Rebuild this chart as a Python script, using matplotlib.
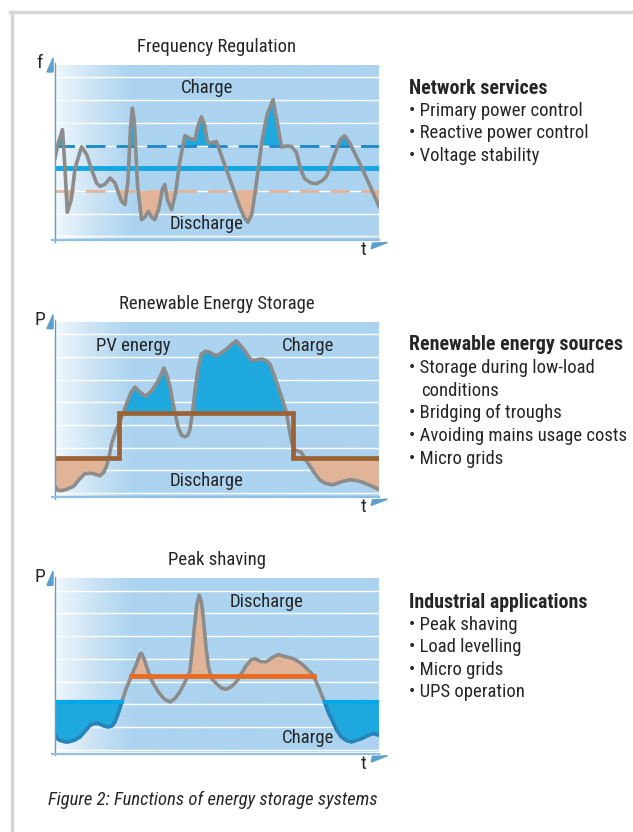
import numpy as np
import matplotlib
matplotlib.use("Agg")
import matplotlib.pyplot as plt
from matplotlib.patches import Polygon
from matplotlib.lines import Line2D
from matplotlib import font_manager

# ---------------- data ----------------
# Panel 1: Frequency Regulation
freq_x = [0.00, 0.10, 0.23, 0.30, 0.38, 0.50, 0.62, 0.82, 0.98, 1.13, 1.28, 1.39, 1.55, 1.70,
          1.85, 2.05, 2.16, 2.25, 2.33, 2.39, 2.45, 2.55, 2.67, 2.78, 2.88, 2.98, 3.08, 3.20,
          3.32, 3.39, 3.47, 3.60, 3.72, 3.85, 4.01, 4.18, 4.32, 4.42, 4.52, 4.62, 4.70, 4.78,
          4.98, 5.20, 5.45, 5.70, 5.85, 5.96, 6.08, 6.20, 6.40, 6.55, 6.73, 6.85, 6.99, 7.15,
          7.30, 7.45, 7.58, 7.70, 7.90, 8.07, 8.25, 8.38, 8.60, 8.80, 8.94, 9.10, 9.40, 9.70, 10.00]
freq_y = [3.45, 4.10, 4.70, 3.20, 1.06, 1.60, 3.00, 3.94, 3.60, 2.94, 2.35, 2.20, 2.30, 2.57,
          2.35, 1.55, 1.40, 2.40, 4.80, 5.65, 5.00, 2.20, 0.73, 0.85, 1.10, 0.85, 0.73, 1.20,
          2.10, 2.28, 1.60, 1.17, 1.90, 3.30, 4.43, 4.30, 4.26, 4.90, 5.26, 4.90, 4.20, 4.11,
          4.18, 3.30, 2.30, 1.30, 0.80, 0.62, 1.00, 2.20, 4.30, 5.40, 6.02, 5.10, 3.94, 3.98,
          3.96, 3.70, 2.95, 2.55, 2.35, 2.32, 2.45, 2.64, 3.50, 4.25, 4.43, 4.10, 3.23, 2.30, 1.32]
freq_upper = 4.0
freq_nominal = 3.0
freq_lower = 2.0

# Panel 2: Renewable Energy Storage
res_x = [0.00, 0.08, 0.20, 0.40, 0.57, 0.75, 0.92, 1.13, 1.30, 1.39, 1.50, 1.59, 1.67, 1.75,
         1.88, 2.00, 2.10, 2.21, 2.35, 2.47, 2.62, 2.80, 2.98, 3.13, 3.27, 3.36, 3.45, 3.55,
         3.62, 3.70, 3.80, 3.90, 4.01, 4.10, 4.16, 4.24, 4.32, 4.42, 4.52, 4.65, 4.78, 4.98,
         5.15, 5.29, 5.45, 5.60, 5.72, 5.86, 6.00, 6.12, 6.30, 6.42, 6.55, 6.63, 6.75, 6.89,
         7.02, 7.14, 7.22, 7.30, 7.40, 7.50, 7.60, 7.70, 7.81, 8.00, 8.17, 8.35, 8.58, 8.85,
         9.10, 9.30, 9.50, 9.75, 10.00]
res_y = [0.29, 0.12, 0.10, 0.18, 0.29, 0.60, 0.85, 0.87, 0.80, 0.76, 0.90, 1.17, 1.60, 2.19,
         2.75, 3.14, 3.50, 3.94, 4.45, 4.67, 4.45, 4.26, 4.50, 4.81, 5.20, 5.51, 5.20, 4.67,
         4.10, 3.57, 2.90, 2.55, 2.48, 2.55, 2.77, 3.50, 4.52, 5.50, 6.13, 6.25, 6.20, 6.05,
         6.20, 6.34, 6.55, 6.71, 6.50, 6.27, 5.95, 5.83, 5.90, 5.90, 5.80, 5.69, 5.25, 4.67,
         4.10, 3.57, 2.90, 2.26, 1.90, 1.85, 1.80, 1.55, 1.31, 0.90, 0.58, 0.42, 0.36, 0.50,
         0.58, 0.55, 0.47, 0.32, 0.15]
res_step_x = [0.0, 1.97, 1.97, 7.35, 7.35, 10.0]
res_step_y = [1.53, 1.53, 3.54, 3.54, 1.53, 1.53]
res_low, res_high = 1.53, 3.54
res_step_start, res_step_end = 1.97, 7.35

# Panel 3: Peak shaving
peak_x = [0.00, 0.08, 0.15, 0.30, 0.41, 0.60, 0.77, 0.92, 1.08, 1.20, 1.34, 1.50, 1.64, 1.76,
          1.85, 1.95, 2.06, 2.20, 2.36, 2.52, 2.62, 2.67, 2.75, 2.88, 3.00, 3.19, 3.38, 3.55,
          3.70, 3.85, 4.02, 4.16, 4.22, 4.30, 4.38, 4.45, 4.52, 4.58, 4.66, 4.74, 4.85, 4.98,
          5.15, 5.29, 5.45, 5.60, 5.75, 5.91, 6.05, 6.17, 6.35, 6.52, 6.70, 6.89, 7.10, 7.35,
          7.50, 7.66, 7.82, 7.97, 8.15, 8.32, 8.45, 8.58, 8.70, 8.84, 9.00, 9.15, 9.32, 9.50,
          9.65, 9.81, 9.90, 10.00]
peak_y = [0.66, 0.48, 0.41, 0.35, 0.34, 0.42, 0.56, 0.80, 1.07, 1.15, 1.15, 1.05, 1.00, 1.05,
          1.22, 1.60, 2.10, 2.70, 3.25, 3.80, 4.20, 4.24, 4.00, 3.43, 3.00, 2.54, 2.22, 2.10,
          2.25, 2.54, 3.00, 3.43, 4.20, 5.40, 6.40, 6.81, 6.50, 5.80, 4.50, 3.60, 3.10, 2.91,
          2.70, 2.66, 2.78, 2.99, 3.35, 3.72, 3.95, 4.01, 3.88, 3.87, 4.05, 4.19, 4.10, 4.01,
          3.90, 3.72, 3.50, 3.28, 2.70, 2.10, 1.60, 1.22, 0.85, 0.56, 0.40, 0.34, 0.42, 0.51,
          0.62, 0.71, 0.68, 0.63]
peak_charge_level = 2.10
peak_charge_left_end = 2.06
peak_charge_right_start = 8.32
peak_limit = 3.25
peak_limit_start, peak_limit_end = 2.36, 7.99

titles = ["Frequency Regulation", "Renewable Energy Storage", "Peak shaving"]
ylabels = ["f", "P", "P"]
side_headings = ["Network services", "Renewable energy sources", "Industrial applications"]
side_items = [
    ["Primary power control", "Reactive power control", "Voltage stability"],
    ["Storage during low-load\nconditions", "Bridging of troughs",
     "Avoiding mains usage costs", "Micro grids"],
    ["Peak shaving", "Load levelling", "Micro grids", "UPS operation"],
]
caption = "Figure 2: Functions of energy storage systems"

# ---------------- style ----------------
avail = {f.name for f in font_manager.fontManager.ttflist}
fam = [f for f in ["Liberation Sans Narrow", "Roboto Condensed", "Liberation Sans", "DejaVu Sans"] if f in avail]
plt.rcParams["font.family"] = fam

W, H = 633, 832
fig = plt.figure(figsize=(W / 100, H / 100), dpi=100)

BG = np.array([0xac, 0xd3, 0xef]) / 255
BG0 = np.array([0xf4, 0xf9, 0xfd]) / 255
GRAY = "#8c8c8c"
FILL_BLUE = "#1ea8dd"
FILL_ORANGE = "#e2b497"
TXT = "#262626"
AXC = "#5d9fcb"
FS = 13.5

YMIN, YMAX = -0.12, 7.55
ax_left, ax_w = 55 / W, 324 / W
tops = [65, 321.7, 578.3]
ax_h_px = 174

def make_axes(top_px):
    ax = fig.add_axes([ax_left, 1 - (top_px + ax_h_px) / H, ax_w, ax_h_px / H])
    ax.set_xlim(0, 10)
    ax.set_ylim(YMIN, YMAX)
    ax.axis("off")
    # gradient background
    n = 400
    xs = np.linspace(0, 1, n)
    t = np.clip(xs / 0.24, 0, 1) ** 0.8
    cols = BG0[None, :] * (1 - t[:, None]) + BG[None, :] * t[:, None]
    ax.imshow(cols[None, :, :], extent=(0, 10, YMIN, YMAX), aspect="auto", zorder=0,
              interpolation="bilinear")
    for g in range(8):
        ax.axhline(g, color="white", lw=1.0, zorder=1)
    # axes lines
    ax.add_line(Line2D([0, 0], [-0.017, 1.01], transform=ax.transAxes, color=AXC, lw=1.0,
                       clip_on=False, zorder=6))
    ax.add_line(Line2D([-0.01, 1.0], [-0.008, -0.008], transform=ax.transAxes, color="#8fbfe2",
                       lw=1.6, clip_on=False, zorder=6))
    # arrows
    ax.add_patch(Polygon([(-0.025, 0.96), (-0.006, 1.04), (-0.006, 0.96)], closed=True,
                         transform=ax.transAxes, color=AXC, clip_on=False, zorder=6))
    ax.add_patch(Polygon([(0.976, -0.056), (0.980, -0.024), (1.026, -0.020)], closed=True,
                         transform=ax.transAxes, color=AXC, clip_on=False, zorder=6))
    ax.text(0.954, -0.065, "t", transform=ax.transAxes, ha="center", va="center",
            fontsize=14, color=TXT)
    return ax

axes = [make_axes(tp) for tp in tops]

for ax, ttl, yl in zip(axes, titles, ylabels):
    ax.text(0.5, 1.103, ttl, transform=ax.transAxes, ha="center", va="center",
            fontsize=FS, color=TXT)
    ax.text(-0.047, 1.01, yl, transform=ax.transAxes, ha="center", va="center",
            fontsize=14, color=TXT)

# ---- Panel 1 ----
ax = axes[0]
fx, fy = np.array(freq_x), np.array(freq_y)
ax.fill_between(fx, fy, freq_upper, where=fy > freq_upper, interpolate=True,
                color=FILL_BLUE, lw=0, zorder=2)
ax.fill_between(fx, fy, freq_lower, where=fy < freq_lower, interpolate=True,
                color=FILL_ORANGE, lw=0, zorder=2)
ax.axhline(freq_upper, color="#1f86c4", lw=2.0, dashes=(7, 4), zorder=3)
ax.axhline(freq_nominal, color="#14a6e3", lw=3.5, zorder=3)
ax.axhline(freq_lower, color="#e6b495", lw=2.0, dashes=(7, 4), zorder=3)
ax.plot(fx, fy, color=GRAY, lw=2.6, solid_joinstyle="round", zorder=4)
ax.text(4.68, 6.53, "Charge", ha="center", va="center", fontsize=FS, color=TXT, zorder=5)
ax.text(4.68, 0.55, "Discharge", ha="center", va="center", fontsize=FS, color=TXT, zorder=5)

# ---- Panel 2 ----
ax = axes[1]
rx, ry = np.array(res_x), np.array(res_y)
high_zone = (rx >= res_step_start) & (rx <= res_step_end)
ax.fill_between(rx, ry, res_high, where=high_zone & (ry > res_high), interpolate=True,
                color=FILL_BLUE, lw=0, zorder=2)
ax.fill_between(rx, ry, res_low, where=(~high_zone) & (ry < res_low), interpolate=True,
                color=FILL_ORANGE, lw=0, zorder=2)
ax.plot(rx, ry, color=GRAY, lw=2.6, solid_joinstyle="round", zorder=3)
ax.plot(res_step_x, res_step_y, color="#9b6335", lw=3.4, zorder=4, solid_joinstyle="miter")
ax.text(2.42, 6.49, "PV energy", ha="center", va="center", fontsize=FS, color=TXT, zorder=5)
ax.text(7.81, 6.49, "Charge", ha="center", va="center", fontsize=FS, color=TXT, zorder=5)
ax.text(4.68, 0.52, "Discharge", ha="center", va="center", fontsize=FS, color=TXT, zorder=5)

# ---- Panel 3 ----
ax = axes[2]
px_, py_ = np.array(peak_x), np.array(peak_y)
edge = (px_ <= peak_charge_left_end) | (px_ >= peak_charge_right_start)
mid = (px_ >= peak_limit_start) & (px_ <= peak_limit_end)
ax.fill_between(px_, py_, peak_charge_level, where=edge & (py_ <= peak_charge_level + 1e-9),
                interpolate=True, color=FILL_BLUE, lw=0, zorder=2)
ax.fill_between(px_, py_, peak_limit, where=mid & (py_ > peak_limit), interpolate=True,
                color=FILL_ORANGE, lw=0, zorder=2)
ax.plot(px_, py_, color=GRAY, lw=2.6, solid_joinstyle="round", zorder=3)
left = px_ <= peak_charge_left_end
right = px_ >= peak_charge_right_start
ax.plot(px_[left], py_[left], color="#1f86c0", lw=2.6, solid_joinstyle="round", zorder=3.5)
ax.plot(px_[right], py_[right], color="#1f86c0", lw=2.6, solid_joinstyle="round", zorder=3.5)
ax.plot([0, peak_charge_left_end], [peak_charge_level] * 2, color="#05a8e6", lw=3, zorder=4)
ax.plot([peak_charge_right_start, 10], [peak_charge_level] * 2, color="#05a8e6", lw=3, zorder=4)
ax.plot([peak_limit_start, peak_limit_end], [peak_limit] * 2, color="#ea6b1f", lw=3.4, zorder=4)
ax.text(6.53, 6.51, "Discharge", ha="center", va="center", fontsize=FS, color=TXT, zorder=5)
ax.text(7.81, 0.53, "Charge", ha="center", va="center", fontsize=FS, color=TXT, zorder=5)

# ---- side text ----
side_y = [[88, 111, 133, 156],
          [345, 368, 413, 436, 459],
          [603, 625, 647, 670, 692]]
tx = 409 / W
for heading, items, ys in zip(side_headings, side_items, side_y):
    fig.text(tx, 1 - ys[0] / H, heading, fontsize=14.3, fontweight="bold", color=TXT,
             ha="left", va="center")
    for it, yy in zip(items, ys[1:]):
        lines = it.split("\n")
        fig.text(tx, 1 - yy / H, "\u2022 " + lines[0], fontsize=FS, color=TXT,
                 ha="left", va="center")
        for k, extra in enumerate(lines[1:], start=1):
            fig.text(421 / W, 1 - (yy + 22.5 * k) / H, extra, fontsize=FS, color=TXT,
                     ha="left", va="center")

fig.text(48 / W, 1 - 800 / H, caption, fontsize=13.4, style="italic", color=TXT,
         ha="left", va="center")

# frame lines
fig.add_artist(Line2D([10 / W, 1.0], [1 - 12 / H, 1 - 12 / H], transform=fig.transFigure,
                      color="#d6d6d6", lw=2.5))
fig.add_artist(Line2D([11.5 / W, 11.5 / W], [0, 1 - 12 / H], transform=fig.transFigure,
                      color="#d6d6d6", lw=2.5))

fig.savefig("out.png", dpi=100)
